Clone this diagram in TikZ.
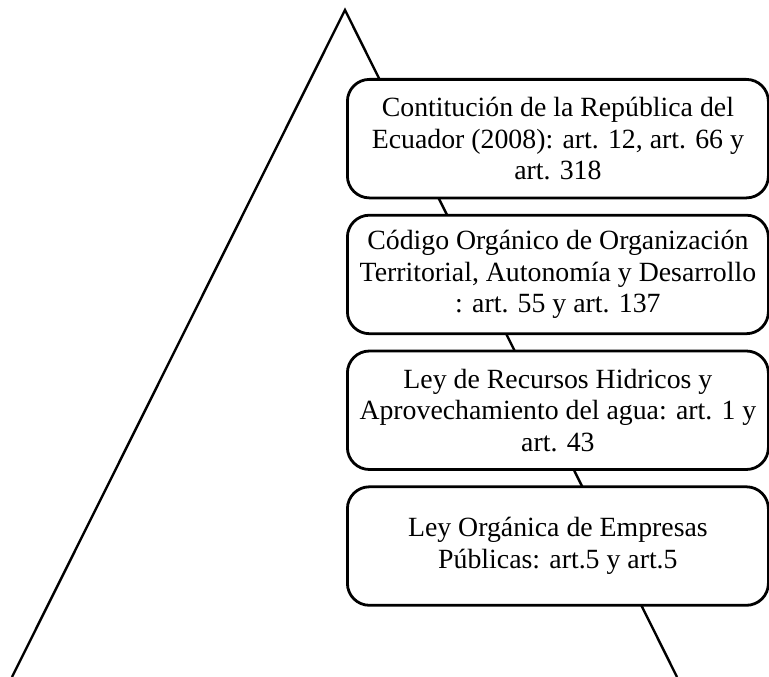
\documentclass[tikz,border=0pt]{standalone}
\usepackage{fontspec}
\setmainfont{Liberation Serif}
\usetikzlibrary{positioning}

\begin{document}
\begin{tikzpicture}[x=1pt,y=-1pt,
    norma/.style={draw, line width=2.8pt, rounded corners=22pt, fill=white,
      align=center, inner sep=0pt, minimum width=421pt, minimum height=118.5pt,
      font=\fontsize{27.8}{31.5}\selectfont}]
    \useasboundingbox (0,0) rectangle (769,677);

    % Piramide
    \coordinate (cima) at (345,10);
    \coordinate (izq) at (12,677);
    \coordinate (der) at (677,677);
    \draw[line width=2.4pt] (izq) -- (cima) -- (der);

    % Normas
    \node[norma, anchor=north west] (constitucion) at (346,78)
        {Contitución de la República del\\Ecuador (2008): art. 12, art. 66 y\\art. 318};
    \node[norma, below=14.5pt of constitucion] (cootad)
        {Código Orgánico de Organización\\Territorial, Autonomía y Desarrollo\\: art. 55 y art. 137};
    \node[norma, below=14.5pt of cootad] (recursos)
        {Ley de Recursos Hidricos y\\Aprovechamiento del agua: art. 1 y\\art. 43};
    \node[norma, below=14.5pt of recursos] (empresas)
        {Ley Orgánica de Empresas\\Públicas: art.5 y art.5};
\end{tikzpicture}
\end{document}
